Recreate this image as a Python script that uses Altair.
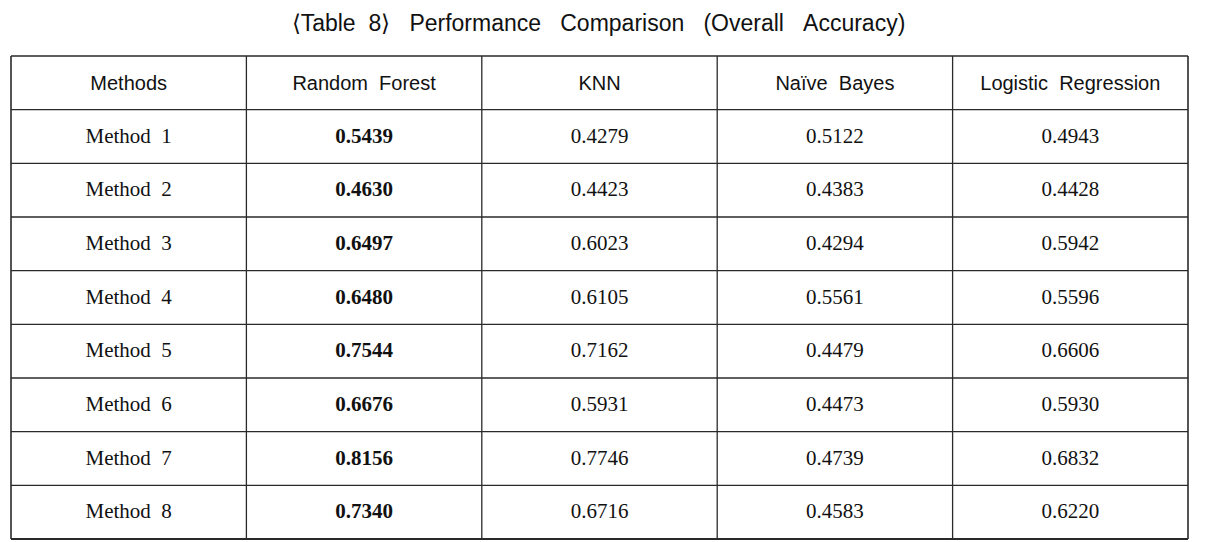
import altair as alt
import pandas as pd

NB = "\u00a0"

title_text = (f"\u27e8Table{NB}{NB}8\u27e9{NB}{NB}{NB}Performance{NB}{NB}{NB}Comparison{NB}{NB}{NB}"
              f"(Overall{NB}{NB}{NB}Accuracy)")
col_names = ["Methods", f"Random{NB}{NB}Forest", "KNN", f"Naïve{NB}{NB}Bayes", f"Logistic{NB}{NB}Regression"]
methods = [f"Method{NB}{NB}1", f"Method{NB}{NB}2", f"Method{NB}{NB}3", f"Method{NB}{NB}4",
           f"Method{NB}{NB}5", f"Method{NB}{NB}6", f"Method{NB}{NB}7", f"Method{NB}{NB}8"]
rf = [0.5439, 0.4630, 0.6497, 0.6480, 0.7544, 0.6676, 0.8156, 0.7340]
knn = [0.4279, 0.4423, 0.6023, 0.6105, 0.7162, 0.5931, 0.7746, 0.6716]
nb = [0.5122, 0.4383, 0.4294, 0.5561, 0.4479, 0.4473, 0.4739, 0.4583]
lr = [0.4943, 0.4428, 0.5942, 0.5596, 0.6606, 0.5930, 0.6832, 0.6220]

n_cols = len(col_names)
n_rows = len(methods) + 1

header = pd.DataFrame({"c": [i + 0.5 for i in range(n_cols)],
                       "r": [0.5] * n_cols,
                       "t": col_names})

mcells = pd.DataFrame({"c": [0.5] * len(methods),
                       "r": [i + 1.5 for i in range(len(methods))],
                       "t": methods})

rows = []
for ci, series in enumerate([rf, knn, nb, lr], start=1):
    for ri, v in enumerate(series):
        rows.append({"c": ci + 0.5, "r": ri + 1.5, "t": f"{v:.4f}", "bold": ci == 1})
vals = pd.DataFrame(rows)

hl = pd.DataFrame({"y": list(range(n_rows + 1)), "x0": [0] * (n_rows + 1),
                   "x1": [n_cols] * (n_rows + 1),
                   "w": [1.3] * n_rows + [2.2]})
vl = pd.DataFrame({"x": list(range(n_cols + 1)), "y0": [0] * (n_cols + 1),
                   "y1": [n_rows] * (n_cols + 1),
                   "w": [1.6] + [1.3] * (n_cols - 1) + [1.6]})

xs = alt.Scale(domain=[0, n_cols], range=[0, 1177])
ys = alt.Scale(domain=[0, n_rows], range=[0, 483])

line_color = "#2a2a2a"
text_color = "#111111"

h_rules = alt.Chart(hl).mark_rule(color=line_color).encode(
    x=alt.X("x0:Q", scale=xs, axis=None),
    x2="x1:Q",
    y=alt.Y("y:Q", scale=ys, axis=None),
    strokeWidth=alt.StrokeWidth("w:Q", scale=None),
)
v_rules = alt.Chart(vl).mark_rule(color=line_color).encode(
    x=alt.X("x:Q", scale=xs, axis=None),
    y=alt.Y("y0:Q", scale=ys, axis=None),
    y2="y1:Q",
    strokeWidth=alt.StrokeWidth("w:Q", scale=None),
)

head_txt = alt.Chart(header).mark_text(font="Liberation Sans", fontSize=20, color=text_color,
                                       align="center", baseline="middle", dy=1).encode(
    x=alt.X("c:Q", scale=xs, axis=None), y=alt.Y("r:Q", scale=ys, axis=None), text="t:N")

m_txt = alt.Chart(mcells).mark_text(font="Liberation Serif", fontSize=21, color=text_color,
                                    align="center", baseline="middle").encode(
    x=alt.X("c:Q", scale=xs, axis=None), y=alt.Y("r:Q", scale=ys, axis=None), text="t:N")

v_txt = alt.Chart(vals).transform_filter("!datum.bold").mark_text(
    font="Liberation Serif", fontSize=21, color=text_color, align="center", baseline="middle").encode(
    x=alt.X("c:Q", scale=xs, axis=None), y=alt.Y("r:Q", scale=ys, axis=None), text="t:N")

b_txt = alt.Chart(vals).transform_filter("datum.bold").mark_text(
    font="Liberation Serif", fontSize=21, fontWeight="bold", color=text_color,
    align="center", baseline="middle").encode(
    x=alt.X("c:Q", scale=xs, axis=None), y=alt.Y("r:Q", scale=ys, axis=None), text="t:N")

chart = alt.layer(h_rules, v_rules, head_txt, m_txt, v_txt, b_txt).properties(
    width=1177, height=483,
    padding={"left": 3, "top": 48, "right": 13, "bottom": 3},
    autosize=alt.AutoSizeParams(type="none"),
    title=alt.Title(title_text, font="Liberation Sans", fontSize=23, fontWeight="normal",
                    color=text_color, anchor="middle", baseline="alphabetic", offset=1, dx=-1),
    background="white",
).configure_view(stroke=None)

chart.save("out.html", embed_options={"renderer": "svg", "actions": False})
